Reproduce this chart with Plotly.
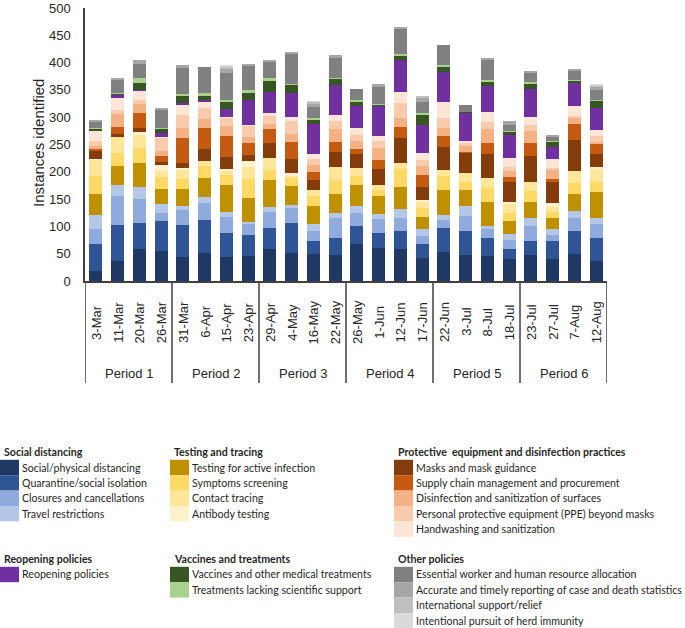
import plotly.graph_objects as go

# ---------------- data ----------------
dates = ["3-Mar", "11-Mar", "20-Mar", "26-Mar", "31-Mar", "6-Apr", "15-Apr", "23-Apr",
         "29-Apr", "4-May", "16-May", "22-May", "26-May", "1-Jun", "12-Jun", "17-Jun",
         "22-Jun", "3-Jul", "8-Jul", "18-Jul", "23-Jul", "27-Jul", "7-Aug", "12-Aug"]
periods = ["Period 1", "Period 2", "Period 3", "Period 4", "Period 5", "Period 6"]
dates_per_period = 4
y_ticks = [0, 50, 100, 150, 200, 250, 300, 350, 400, 450, 500]

social_physical_distancing = [19, 36, 58, 55, 44, 52, 44, 45, 59, 52, 50, 48, 68, 61, 59, 43, 53, 47, 45, 41, 47, 41, 49, 37]
quarantine_isolation = [49, 66, 49, 54, 58, 60, 44, 40, 38, 55, 24, 30, 33, 27, 33, 25, 44, 45, 34, 17, 27, 33, 43, 42]
closures_cancellations = [27, 53, 44, 16, 28, 31, 30, 19, 29, 26, 18, 37, 24, 26, 23, 15, 14, 27, 16, 18, 27, 11, 24, 25]
travel_restrictions = [26, 20, 21, 16, 7, 10, 8, 4, 10, 7, 12, 10, 12, 9, 16, 12, 10, 18, 6, 11, 14, 10, 12, 12]
testing_active_infection = [38, 35, 44, 27, 31, 35, 50, 44, 49, 34, 33, 34, 39, 32, 41, 23, 46, 29, 44, 23, 29, 20, 32, 47]
symptoms_screening = [34, 25, 28, 22, 19, 22, 19, 35, 18, 14, 18, 26, 17, 11, 34, 15, 25, 15, 26, 15, 21, 12, 20, 18]
contact_tracing = [30, 28, 24, 12, 18, 9, 8, 22, 23, 5, 11, 23, 14, 10, 11, 11, 11, 17, 17, 17, 17, 9, 22, 25]
antibody_testing = [1, 0, 5, 10, 2, 0, 2, 10, 0, 4, 0, 0, 0, 0, 0, 5, 0, 0, 0, 2, 0, 7, 0, 2]
masks_guidance = [14, 7, 7, 6, 9, 22, 22, 12, 26, 27, 19, 28, 26, 29, 44, 23, 43, 37, 44, 37, 47, 39, 57, 25]
supply_chain = [4, 12, 28, 11, 45, 40, 38, 22, 26, 31, 14, 19, 9, 17, 21, 23, 19, 2, 21, 9, 24, 5, 29, 19]
disinfection_surfaces = [5, 24, 16, 9, 20, 16, 18, 11, 9, 14, 13, 23, 14, 22, 16, 15, 16, 10, 25, 11, 21, 16, 11, 3]
ppe_beyond_masks = [9, 8, 8, 24, 23, 20, 16, 21, 17, 24, 11, 15, 12, 12, 28, 12, 18, 6, 14, 8, 11, 4, 3, 10]
handwashing = [18, 22, 16, 1, 18, 12, 1, 1, 3, 8, 10, 11, 12, 9, 21, 13, 28, 3, 17, 17, 16, 16, 19, 12]
reopening = [0, 6, 1, 8, 4, 2, 15, 45, 40, 44, 55, 55, 41, 56, 58, 51, 56, 52, 49, 41, 50, 22, 41, 39]
vaccines_treatments = [6, 2, 14, 8, 13, 8, 14, 14, 20, 14, 7, 12, 6, 2, 7, 19, 9, 2, 7, 6, 11, 10, 5, 15]
treatments_lacking_support = [1, 1, 9, 2, 4, 5, 2, 5, 5, 2, 3, 1, 4, 2, 4, 3, 3, 0, 3, 1, 3, 1, 1, 1]
essential_worker = [12, 24, 26, 34, 47, 48, 50, 44, 30, 56, 21, 36, 21, 31, 47, 19, 37, 12, 36, 11, 17, 8, 18, 18]
accurate_reporting = [2, 1, 6, 1, 5, 0, 7, 3, 3, 2, 5, 6, 0, 5, 1, 9, 0, 0, 4, 8, 2, 3, 2, 6]
international_support = [0, 0, 0, 0, 0, 0, 5, 0, 0, 0, 4, 0, 0, 0, 0, 2, 0, 0, 0, 0, 0, 0, 0, 2]
herd_immunity = [0, 0, 0, 0, 0, 0, 1, 0, 0, 0, 1, 0, 0, 0, 0, 0, 0, 0, 0, 0, 0, 0, 0, 1]

series_names = [
    "Social/physical distancing", "Quarantine/social isolation", "Closures and cancellations",
    "Travel restrictions", "Testing for active infection", "Symptoms screening", "Contact tracing",
    "Antibody testing", "Masks and mask guidance", "Supply chain management and procurement",
    "Disinfection and sanitization of surfaces", "Personal protective equipment (PPE) beyond masks",
    "Handwashing and sanitization", "Reopening policies", "Vaccines and other medical treatments",
    "Treatments lacking scientific support", "Essential worker and human resource allocation",
    "Accurate and timely reporting of case and death statistics", "International support/relief",
    "Intentional pursuit of herd immunity"]
series_values = [
    social_physical_distancing, quarantine_isolation, closures_cancellations, travel_restrictions,
    testing_active_infection, symptoms_screening, contact_tracing, antibody_testing,
    masks_guidance, supply_chain, disinfection_surfaces, ppe_beyond_masks, handwashing,
    reopening, vaccines_treatments, treatments_lacking_support,
    essential_worker, accurate_reporting, international_support, herd_immunity]
series_colors = [
    "#1F3864", "#2F5597", "#8FAADC", "#B4C7E7",
    "#BF9000", "#FFD966", "#FFE699", "#FFF2CC",
    "#843C0C", "#C55A11", "#F4B183", "#F8CBAD", "#FBE5D6",
    "#7030A0", "#375623", "#A9D18E",
    "#808080", "#A6A6A6", "#BFBFBF", "#D9D9D9"]

legend_groups = [
    ("Social distancing", [0, 1, 2, 3]),
    ("Testing and tracing", [4, 5, 6, 7]),
    ("Protective  equipment and disinfection practices", [8, 9, 10, 11, 12]),
    ("Reopening policies", [13]),
    ("Vaccines and treatments", [14, 15]),
    ("Other policies", [16, 17, 18, 19]),
]

# ---------------- layout geometry (pixels) ----------------
W, H = 685, 628
PL, PR, PT, PB = 85, 607, 8, 281
AX = "#404040"
TXT = "#262626"
AF = "Arial, Liberation Sans, sans-serif"


def px(x):
    return (x - PL) / (PR - PL)


def py(y):
    return (PB - y) / (PB - PT)


fig = go.Figure()
for name, vals, col in zip(series_names, series_values, series_colors):
    fig.add_trace(go.Bar(x=dates, y=vals, name=name, marker=dict(color=col, line=dict(width=0)),
                         showlegend=False))

shapes = []
annotations = []

# category separators (multi-level axis)
n = len(dates)
for k in range(len(periods) + 1):
    xv = -0.5 + k * dates_per_period
    shapes.append(dict(type="line", xref="x", yref="paper", x0=xv, x1=xv, y0=0, y1=py(383),
                       line=dict(color=AX, width=1.5)))

for i, d in enumerate(dates):
    annotations.append(dict(x=i, y=py(322), xref="x", yref="paper", text=d, textangle=-90,
                            showarrow=False, xanchor="center", yanchor="middle",
                            font=dict(family=AF, size=13, color=TXT)))
for k, p in enumerate(periods):
    annotations.append(dict(x=k * dates_per_period + (dates_per_period - 1) / 2, y=py(373),
                            xref="x", yref="paper", text=p, showarrow=False,
                            xanchor="center", yanchor="middle",
                            font=dict(family=AF, size=13, color=TXT)))

annotations.append(dict(x=px(38), y=py(143), xref="paper", yref="paper",
                        text="Instances identified", textangle=-90, showarrow=False,
                        xanchor="center", yanchor="middle",
                        font=dict(family=AF, size=15, color=TXT)))

# custom legend
group_pos = [(0, 452), (170, 452), (394, 452), (0, 559), (170, 559), (394, 559)]
row_h = 15.4
sw_w = 19
LF = "Lato, Carlito, sans-serif"
LS = 10.6
for (title, idxs), (gx, gy) in zip(legend_groups, group_pos):
    annotations.append(dict(x=px(gx + 2), y=py(gy), xref="paper", yref="paper",
                            text="<b>" + title + "</b>", showarrow=False,
                            xanchor="left", yanchor="middle",
                            font=dict(family=LF, size=LS, color=TXT)))
    for r, si in enumerate(idxs):
        cy = gy + 15.5 + r * row_h
        shapes.append(dict(type="rect", xref="paper", yref="paper",
                           x0=px(gx), x1=px(gx + sw_w), y0=py(cy + row_h / 2), y1=py(cy - row_h / 2),
                           fillcolor=series_colors[si], line=dict(width=0)))
        annotations.append(dict(x=px(gx + sw_w + 1), y=py(cy), xref="paper", yref="paper",
                                text=series_names[si], showarrow=False,
                                xanchor="left", yanchor="middle",
                                font=dict(family=LF, size=LS, color=TXT)))

fig.update_layout(
    width=W, height=H,
    margin=dict(l=PL, r=W - PR, t=PT, b=H - PB, pad=0, autoexpand=False),
    barmode="stack", bargap=0.4,
    plot_bgcolor="white", paper_bgcolor="white",
    shapes=shapes, annotations=annotations,
    xaxis=dict(type="category", range=[-0.5, n - 0.5], showticklabels=False, ticks="",
               automargin=False,
               showline=True, linecolor=AX, linewidth=1.5, showgrid=False, zeroline=False,
               fixedrange=True),
    yaxis=dict(range=[0, 500], tickmode="array", tickvals=y_ticks, automargin=False,
               showline=True, linecolor=AX, linewidth=1.5, ticklabeloverflow="allow",
               showgrid=False, zeroline=False, ticks="", ticklabelstandoff=10,
               tickfont=dict(family=AF, size=13, color=TXT)),
)

fig.write_html("out.html", config={"displayModeBar": False},
               post_script="document.body.style.margin='0';document.body.style.overflow='hidden';")
